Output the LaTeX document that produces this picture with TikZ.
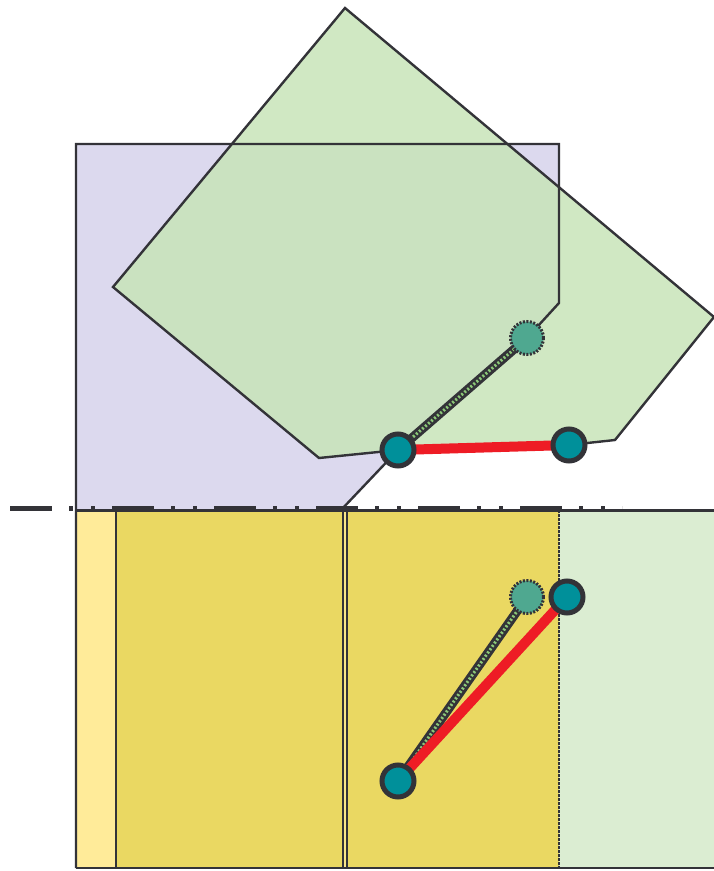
\documentclass[tikz,border=0pt]{standalone}
\definecolor{dk}{HTML}{333338}
\definecolor{lav}{HTML}{DCD9EE}
\definecolor{grn}{HTML}{C8E4B8}
\definecolor{grnd}{HTML}{8CC878}
\definecolor{yweave}{HTML}{EAD862}
\definecolor{ylight}{HTML}{FFEB99}
\definecolor{gright}{HTML}{DBEDD2}
\definecolor{teal}{HTML}{00909A}
\definecolor{tealg}{HTML}{4FA890}
\definecolor{redl}{HTML}{EE1C25}
\begin{document}
\begin{tikzpicture}[x=1pt,y=-1pt,
  outl/.style={draw=dk,line width=2.4pt,line join=miter},
  thinl/.style={draw=dk,line width=1.6pt},
  redlink/.style={draw=redl,line width=10pt},
  hatchlink/.style={draw=dk,line width=9pt,
     postaction={draw=grnd,line width=3pt,dash pattern=on 2pt off 2pt}},
  joint/.style={circle,draw=dk,fill=teal,line width=5pt,minimum size=32pt,inner sep=0pt},
  ghostjoint/.style={circle,draw=dk,fill=tealg,line width=3pt,dash pattern=on 2pt off 1.5pt,minimum size=33pt,inner sep=0pt}]
\useasboundingbox (0,0) rectangle (714,871);
% lower fills
\fill[ylight] (76,510) rectangle (116,868);
\fill[yweave] (116,510) rectangle (559,868);
\fill[ylight!70!yweave] (343,510) rectangle (347,868);
\fill[gright] (559,510) rectangle (714,868);
% upper fills
\fill[lav] (76,144) -- (559,144) -- (559,303) -- (527,338) -- (398,450) -- (342,509) -- (76,509) -- cycle;
\fill[grn,fill opacity=0.85] (345,8) -- (714,317) -- (615,440) -- (569,445) -- (398,450) -- (319,458) -- (113,287) -- cycle;
% dash-dot-dot line
\draw[dk,line width=4.5pt,dash pattern=on 42pt off 17pt on 4pt off 18pt on 4pt off 17pt] (10,508.5) -- (622,508.5);
% outlines
\draw[outl] (76,868) -- (76,144) -- (559,144) -- (559,303) -- (527,338);
\draw[outl] (398,450) -- (342,509);
\draw[outl] (569,445) -- (615,440) -- (714,317) -- (345,8) -- (113,287) -- (319,458) -- (398,450);
\draw[outl] (76,510.5) -- (714,510.5);
\draw[outl] (76,868) -- (714,868);
\draw[thinl] (116,510) -- (116,868);
\draw[thinl] (343,510) -- (343,868);
\draw[thinl] (347,510) -- (347,868);
\draw[thinl,dash pattern=on 3pt off 1pt] (559,510) -- (559,868);
% joints positions
\coordinate (A1) at (398,450);
\coordinate (B1) at (569,445);
\coordinate (C1) at (527,338);
\coordinate (A2) at (398,781);
\coordinate (B2) at (567,597);
\coordinate (C2) at (527,597);
% links
\draw[hatchlink] (A1) -- (C1);
\draw[redlink] (A1) -- (B1);
\draw[hatchlink] (A2) -- (C2);
\draw[redlink] (A2) -- (B2);
% joints
\node[ghostjoint] (c1) at (C1) {};
\node[joint] (a1) at (A1) {};
\node[joint] (b1) at (B1) {};
\node[ghostjoint] (c2) at (C2) {};
\node[joint] (a2) at (A2) {};
\node[joint] (b2) at (B2) {};
\end{tikzpicture}
\end{document}
